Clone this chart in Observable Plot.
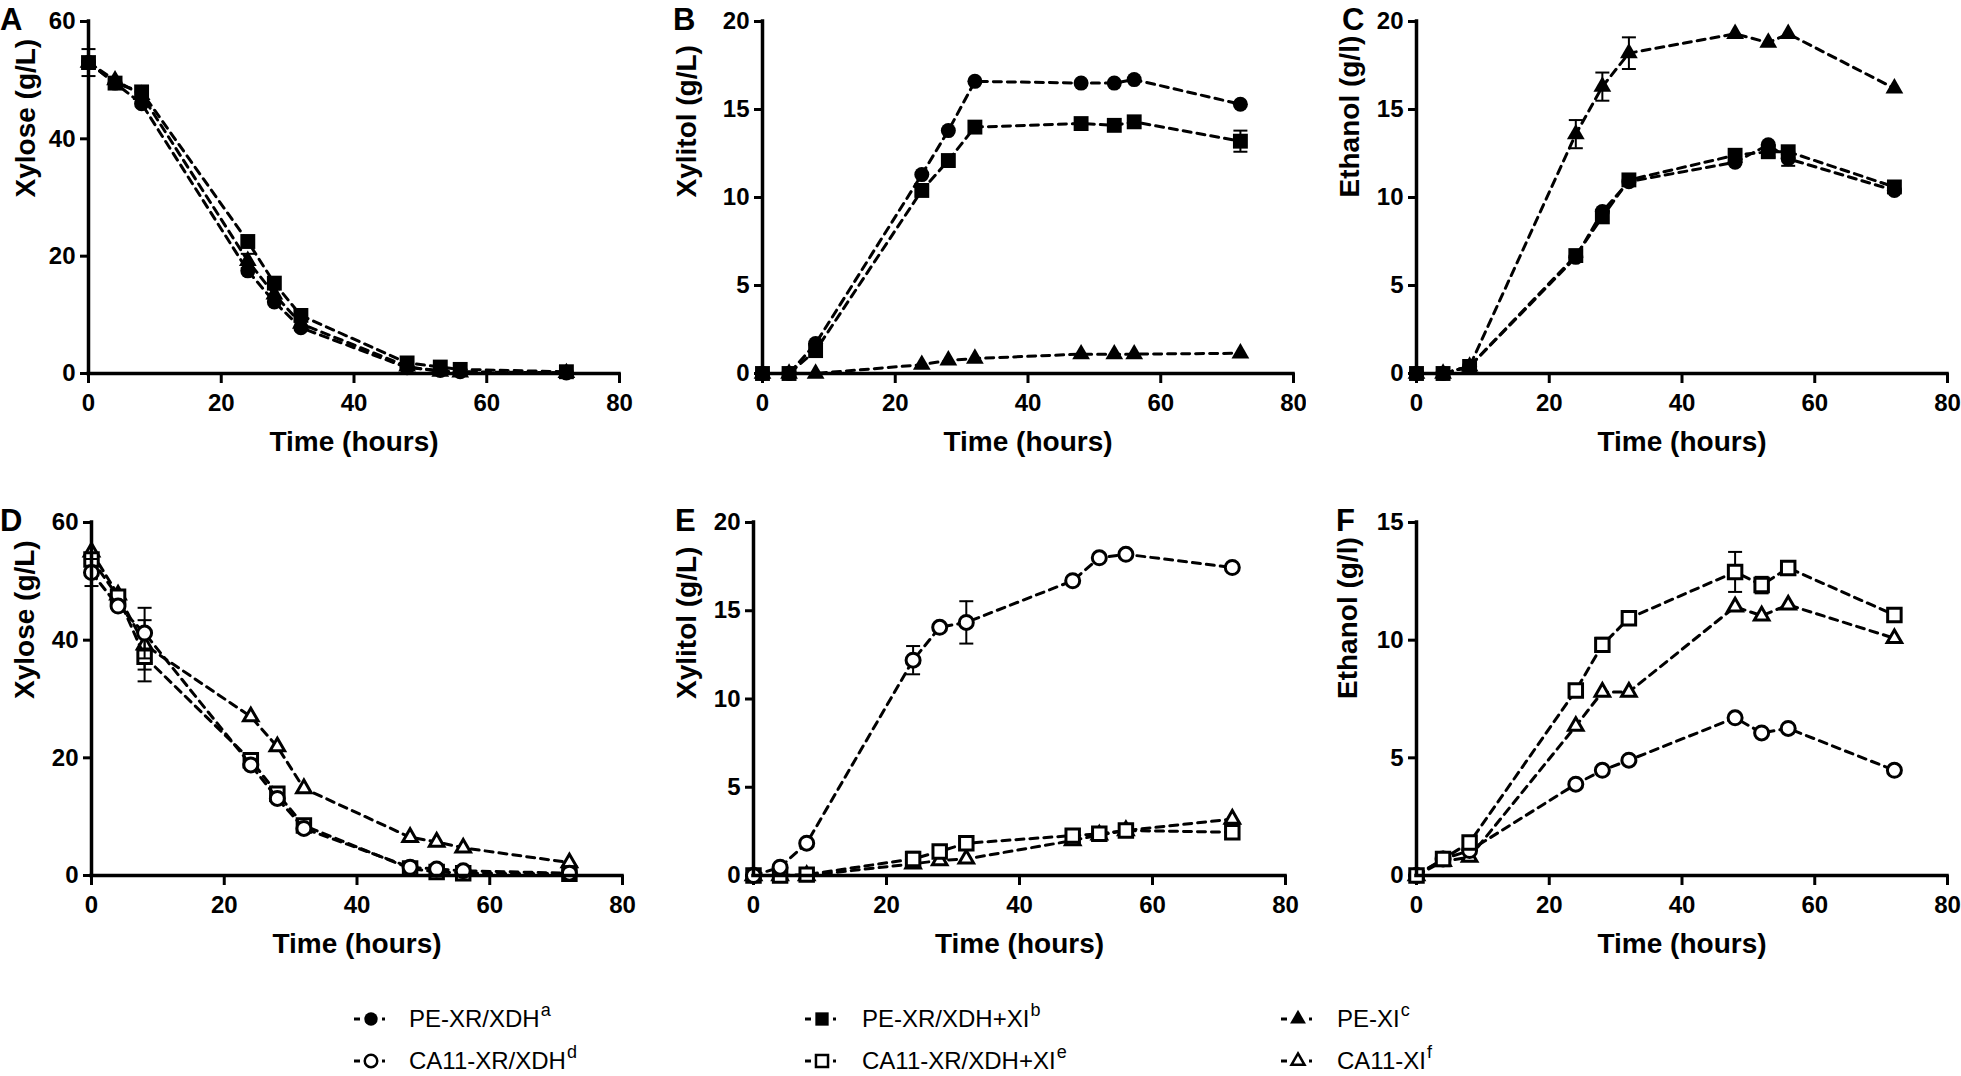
<!DOCTYPE html>
<html><head><meta charset="utf-8">
<script src="https://cdn.jsdelivr.net/npm/d3@7"></script>
<script src="https://cdn.jsdelivr.net/npm/@observablehq/plot@0.6"></script>
<style>
body{margin:0;background:#fff;}
#root{position:relative;width:1961px;height:1076px;overflow:hidden;font-family:"Liberation Sans",Arial,sans-serif;color:#000;background:#fff;}
.panel{position:absolute;}
.panel svg{max-width:none !important;}
.letter{position:absolute;font-weight:bold;font-size:31px;line-height:31px;}
.leg{position:absolute;display:flex;align-items:center;font-size:24px;white-space:nowrap;}
.leg sup{font-size:18px;position:relative;top:-9px;margin-left:1px;}
</style></head><body><div id="root"></div><script>
// ---------- data ----------
const timeTop = [0, 4, 8, 24, 28, 32, 48, 53, 56, 72];
const timeBottom = [0, 4, 8, 24, 28, 32, 48, 52, 56, 72];
const strainNames = ["PE-XR/XDH", "PE-XR/XDH+XI", "PE-XI", "CA11-XR/XDH", "CA11-XR/XDH+XI", "CA11-XI"];
const strainSup = ["a", "b", "c", "d", "e", "f"];
const panelLetters = ["A", "B", "C", "D", "E", "F"];
const yTitles = ["Xylose (g/L)", "Xylitol (g/L)", "Ethanol (g/l)", "Xylose (g/L)", "Xylitol (g/L)", "Ethanol (g/l)"];
const xTitle = "Time (hours)";
const xTicks = [0, 20, 40, 60, 80];
const yTicksXylose = [0, 20, 40, 60];
const yTicks20 = [0, 5, 10, 15, 20];
const yTicks15 = [0, 5, 10, 15];

// Panel A: xylose, PE strains
const A_xrxdh = [53, 49.5, 46, 17.5, 12.2, 7.8, 1.0, 0.5, 0.3, 0.1];
const A_xrxdhxi = [53, 49.5, 48, 22.5, 15.4, 9.9, 1.8, 1.1, 0.7, 0.3];
const A_xi = [53, 50, 47.5, 19.2, 13.5, 8.5, 1.2, 0.3, 0.2, 0.1];
const A_xrxdh_err = [0, 0, 0, 0, 0, 0, 0, 0, 0, 0];
const A_xrxdhxi_err = [2.3, 0, 0, 0, 0, 0, 0, 0, 0, 0];
const A_xi_err = [0, 0, 0, 1.2, 0, 0, 0, 0, 0, 0];
// Panel B: xylitol, PE strains
const B_xrxdh = [0, 0, 1.7, 11.3, 13.8, 16.6, 16.5, 16.5, 16.7, 15.3];
const B_xrxdhxi = [0, 0, 1.3, 10.4, 12.1, 14.0, 14.2, 14.1, 14.3, 13.2];
const B_xi = [0, 0, 0, 0.5, 0.75, 0.85, 1.1, 1.1, 1.1, 1.15];
const B_xrxdh_err = [0, 0, 0, 0, 0, 0, 0, 0, 0, 0];
const B_xrxdhxi_err = [0, 0, 0, 0, 0, 0, 0, 0, 0, 0.6];
const B_xi_err = [0, 0, 0, 0, 0, 0, 0, 0, 0, 0];
// Panel C: ethanol, PE strains
const C_xrxdh = [0, 0, 0.4, 6.6, 9.2, 10.9, 12.0, 13.0, 12.2, 10.4];
const C_xrxdhxi = [0, 0, 0.4, 6.7, 8.9, 11.0, 12.4, 12.6, 12.6, 10.6];
const C_xi = [0, 0, 0.4, 13.6, 16.3, 18.2, 19.3, 18.8, 19.3, 16.2];
const C_xrxdh_err = [0, 0, 0, 0, 0, 0, 0, 0, 0.4, 0];
const C_xrxdhxi_err = [0, 0, 0, 0, 0, 0, 0, 0.3, 0, 0];
const C_xi_err = [0, 0, 0, 0.8, 0.8, 0.9, 0, 0, 0, 0];
// Panel D: xylose, CA11 strains
const D_xrxdh = [51.5, 45.8, 41.2, 18.8, 13.1, 8.0, 1.4, 1.1, 0.8, 0.4];
const D_xrxdhxi = [53.7, 47.4, 37.2, 19.6, 13.9, 8.5, 1.2, 0.6, 0.4, 0.3];
const D_xi = [55.0, 47.7, 39.2, 27.0, 21.9, 14.8, 6.5, 5.7, 4.7, 2.2];
const D_xrxdh_err = [2.3, 0, 4.3, 0, 0, 0, 0, 0, 0, 0];
const D_xrxdhxi_err = [0, 0, 4.2, 0, 0, 0, 0, 0, 0, 0];
const D_xi_err = [0, 0, 4.2, 0, 0, 0, 0, 0, 0, 0];
// Panel E: xylitol, CA11 strains
const E_xrxdh = [0, 0.47, 1.83, 12.2, 14.06, 14.34, 16.7, 18.0, 18.2, 17.45];
const E_xrxdhxi = [0, 0, 0.05, 0.94, 1.36, 1.83, 2.26, 2.36, 2.55, 2.45];
const E_xi = [0, 0, 0, 0.66, 0.85, 0.94, 1.98, 2.3, 2.55, 3.2];
const E_xrxdh_err = [0, 0, 0, 0.8, 0, 1.2, 0, 0, 0, 0];
const E_xrxdhxi_err = [0, 0, 0, 0.4, 0, 0, 0, 0, 0, 0];
const E_xi_err = [0, 0, 0, 0, 0, 0, 0, 0, 0, 0];
// Panel F: ethanol, CA11 strains
const F_xrxdh = [0, 0.7, 1.06, 3.88, 4.47, 4.9, 6.7, 6.06, 6.25, 4.47];
const F_xrxdhxi = [0, 0.7, 1.4, 7.86, 9.8, 10.93, 12.9, 12.34, 13.07, 11.07];
const F_xi = [0, 0.6, 0.78, 6.35, 7.8, 7.8, 11.42, 11.04, 11.5, 10.08];
const F_xrxdh_err = [0, 0, 0, 0, 0, 0, 0, 0, 0, 0];
const F_xrxdhxi_err = [0, 0.3, 0, 0, 0.3, 0, 0.85, 0.35, 0, 0];
const F_xi_err = [0, 0, 0, 0, 0, 0, 0, 0, 0, 0];

// ---------- layout / styles ----------
const root = document.getElementById("root");
const ML = 110, MR = 12, MT = 12, MB = 100;
const layout = [
  {x0: 88, x1: 619, y0: 21, y1: 373, letterX: 0, letterY: 4, titleOff: 54},
  {x0: 762, x1: 1293, y0: 21, y1: 373, letterX: 673, letterY: 4, titleOff: 67},
  {x0: 1416, x1: 1947, y0: 21, y1: 373, letterX: 1342, letterY: 4, titleOff: 58},
  {x0: 91, x1: 622, y0: 522, y1: 875, letterX: 0, letterY: 505, titleOff: 58},
  {x0: 753, x1: 1285, y0: 522, y1: 875, letterX: 675, letterY: 505, titleOff: 58},
  {x0: 1416, x1: 1947, y0: 522, y1: 875, letterX: 1336, letterY: 505, titleOff: 60}
];

const capSymbol = {draw(context, size) { const w = Math.sqrt(size / Math.PI); context.moveTo(-w, 0); context.lineTo(w, 0); }};
const markerStyle = {
  circle: {filled: {r: 7.5}, open: {r: 7}},
  square: {filled: {r: 8.4}, open: {r: 7.6}},
  triangle: {filled: {r: 6.6}, open: {r: 5.4}}
};

function rows(times, vals, errs) {
  return times.map((t, i) => ({t, v: vals[i], e: errs[i]}));
}

function seriesMarks(data, symbol, open) {
  const errData = data.filter(d => d.e > 0);
  const capData = errData.flatMap(d => [{t: d.t, v: d.v - d.e}, {t: d.t, v: d.v + d.e}]);
  const ms = markerStyle[symbol][open ? "open" : "filled"];
  return [
    Plot.ruleX(errData, {x: "t", y1: d => d.v - d.e, y2: d => d.v + d.e, stroke: "black", strokeWidth: 2}),
    Plot.dot(capData, {x: "t", y: "v", symbol: capSymbol, r: 7, stroke: "black", strokeWidth: 2, fill: "none"}),
    Plot.line(data, {x: "t", y: "v", stroke: "black", strokeWidth: 3, strokeDasharray: "8,6"}),
    Plot.dot(data, {x: "t", y: "v", symbol, r: ms.r, fill: open ? "white" : "black",
      stroke: open ? "black" : "none", strokeWidth: open ? 3 : 0})
  ];
}

const panels = [
  {ymax: 60, yticks: yTicksXylose, open: false, series: [
    [rows(timeTop, A_xi, A_xi_err), "triangle"],
    [rows(timeTop, A_xrxdh, A_xrxdh_err), "circle"],
    [rows(timeTop, A_xrxdhxi, A_xrxdhxi_err), "square"]]},
  {ymax: 20, yticks: yTicks20, open: false, series: [
    [rows(timeTop, B_xi, B_xi_err), "triangle"],
    [rows(timeTop, B_xrxdh, B_xrxdh_err), "circle"],
    [rows(timeTop, B_xrxdhxi, B_xrxdhxi_err), "square"]]},
  {ymax: 20, yticks: yTicks20, open: false, series: [
    [rows(timeTop, C_xi, C_xi_err), "triangle"],
    [rows(timeTop, C_xrxdhxi, C_xrxdhxi_err), "square"],
    [rows(timeTop, C_xrxdh, C_xrxdh_err), "circle"]]},
  {ymax: 60, yticks: yTicksXylose, open: true, series: [
    [rows(timeBottom, D_xi, D_xi_err), "triangle"],
    [rows(timeBottom, D_xrxdhxi, D_xrxdhxi_err), "square"],
    [rows(timeBottom, D_xrxdh, D_xrxdh_err), "circle"]]},
  {ymax: 20, yticks: yTicks20, open: true, series: [
    [rows(timeBottom, E_xi, E_xi_err), "triangle"],
    [rows(timeBottom, E_xrxdhxi, E_xrxdhxi_err), "square"],
    [rows(timeBottom, E_xrxdh, E_xrxdh_err), "circle"]]},
  {ymax: 15, yticks: yTicks15, open: true, series: [
    [rows(timeBottom, F_xi, F_xi_err), "triangle"],
    [rows(timeBottom, F_xrxdh, F_xrxdh_err), "circle"],
    [rows(timeBottom, F_xrxdhxi, F_xrxdhxi_err), "square"]]}
];

panels.forEach((p, i) => {
  const L = layout[i];
  const w = L.x1 - L.x0, h = L.y1 - L.y0;
  const W = w + ML + MR, H = h + MT + MB;
  const chart = Plot.plot({
    width: W,
    height: H,
    marginLeft: ML, marginRight: MR, marginTop: MT, marginBottom: MB,
    style: {fontFamily: "'Liberation Sans', Arial, sans-serif", fontSize: "24px", fontWeight: "bold", color: "black", background: "white", overflow: "visible"},
    x: {domain: [0, 80]},
    y: {domain: [0, p.ymax]},
    marks: [
      Plot.axisX({ticks: xTicks, tickSize: 10, tickPadding: 10, strokeWidth: 3, label: null, tickFormat: d => String(d)}),
      Plot.axisY({ticks: p.yticks, tickSize: 8, tickPadding: 5, strokeWidth: 3, label: null, tickFormat: d => String(d)}),
      ...p.series.flatMap(([data, sym]) => seriesMarks(data, sym, p.open)),
      Plot.ruleX([0], {stroke: "black", strokeWidth: 3.5, strokeLinecap: "square"}),
      Plot.ruleY([0], {stroke: "black", strokeWidth: 3.5, strokeLinecap: "square"}),
      Plot.text([xTitle], {frameAnchor: "bottom", dy: 69, lineAnchor: "middle", fontSize: 28, fontWeight: "bold"}),
      Plot.text([yTitles[i]], {frameAnchor: "left", dx: -L.titleOff, rotate: -90, lineAnchor: "bottom", fontSize: 28, fontWeight: "bold"})
    ]
  });
  chart.style.maxWidth = "none";
  chart.style.width = W + "px";
  chart.style.height = H + "px";
  const holder = document.createElement("div");
  holder.className = "panel";
  holder.style.left = (L.x0 - ML) + "px";
  holder.style.top = (L.y0 - MT) + "px";
  holder.style.width = W + "px";
  holder.style.height = H + "px";
  holder.appendChild(chart);
  root.appendChild(holder);
  const letter = document.createElement("div");
  letter.className = "letter";
  letter.textContent = panelLetters[i];
  letter.style.left = L.letterX + "px";
  letter.style.top = L.letterY + "px";
  root.appendChild(letter);
});

// ---------- legend ----------
const legendSymbols = ["circle", "square", "triangle", "circle", "square", "triangle"];
const legCols = [{sx: 371, tx: 409}, {sx: 822, tx: 862}, {sx: 1298, tx: 1337}];
const legRows = [1019, 1061];
strainNames.forEach((name, i) => {
  const col = legCols[i % 3], rowY = legRows[Math.floor(i / 3)];
  const open = i >= 3;
  const sym = legendSymbols[i];
  const ms = markerStyle[sym][open ? "open" : "filled"];
  const sw = d3.create("svg").attr("width", 50).attr("height", 30)
    .style("left", (col.sx - 25) + "px").style("top", (rowY - 15) + "px").style("position", "absolute");
  sw.append("line").attr("x1", 8).attr("x2", 14).attr("y1", 15).attr("y2", 15).attr("stroke", "black").attr("stroke-width", 3);
  sw.append("line").attr("x1", 36).attr("x2", 39).attr("y1", 15).attr("y2", 15).attr("stroke", "black").attr("stroke-width", 3);
  const s = d3.symbol().type({circle: d3.symbolCircle, square: d3.symbolSquare, triangle: d3.symbolTriangle}[sym]).size(Math.PI * ms.r * ms.r * 0.8);
  sw.append("path").attr("d", s()).attr("transform", "translate(25,15)")
    .attr("fill", open ? "white" : "black").attr("stroke", open ? "black" : "none").attr("stroke-width", open ? 2.5 : 0);
  root.appendChild(sw.node());
  const t = document.createElement("div");
  t.className = "leg";
  t.style.left = col.tx + "px";
  t.style.top = (rowY - 15) + "px";
  t.style.height = "30px";
  t.innerHTML = name + "<sup>" + strainSup[i] + "</sup>";
  root.appendChild(t);
});
</script></body></html>
